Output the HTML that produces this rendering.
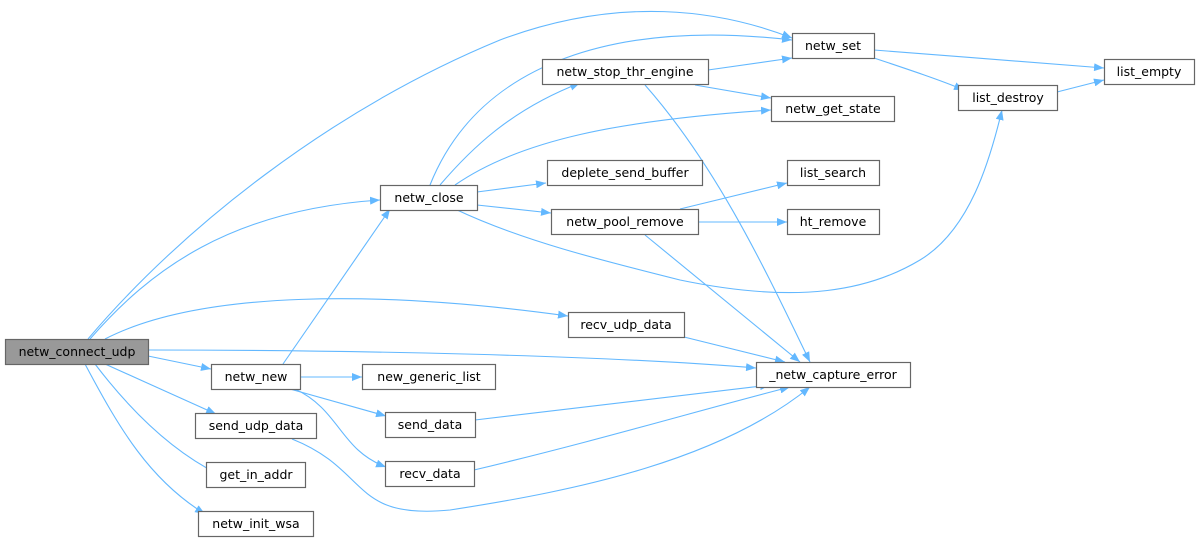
<!DOCTYPE html>
<html><head><meta charset="utf-8"><style>
html,body{margin:0;padding:0;background:#fff;}
svg{display:block}
text{font-family:"DejaVu Sans","Liberation Sans",sans-serif;font-size:12.5px;fill:#000;text-anchor:middle}
.n{fill:#fff;stroke:#666;stroke-width:1.2}
.e{fill:none;stroke:#63b8ff;stroke-width:1.1}
</style></head><body>
<svg width="1201" height="543" viewBox="0 0 1201 543">
<defs><marker id="a" markerWidth="10" markerHeight="8" refX="10" refY="4" orient="auto" markerUnits="userSpaceOnUse"><path d="M0,0 L10,4 L0,8z" fill="#63b8ff"/></marker></defs>
<g class="e" marker-end="url(#a)">
<path d="M88,339 C180,230 330,110 500,40 C620,-5 720,10 792,38"/>
<path d="M90,339 C150,270 230,210 380,200"/>
<path d="M105,339 C200,290 380,290 568,316"/>
<path d="M148,350 C350,350 600,355 756,368"/>
<path d="M148,356 L211,369"/>
<path d="M105,364 L216,414"/>
<path d="M95,364 C130,410 170,450 218,474"/>
<path d="M85,364 C120,430 150,480 205,514"/>
<path d="M283,364 L390,209"/>
<path d="M300,377 L362,377"/>
<path d="M290,389 L386,416"/>
<path d="M295,389 C340,410 340,450 386,467"/>
<path d="M292,439 C370,470 350,520 450,510 C580,490 720,460 810,387"/>
<path d="M430,185 C480,60 620,20 792,40"/>
<path d="M440,185 C470,150 510,110 580,83"/>
<path d="M455,185 C520,140 620,120 771,110"/>
<path d="M477,192 L546,183"/>
<path d="M477,205 L551,213"/>
<path d="M455,209 C520,240 600,260 680,280 C800,305 870,290 920,260 C970,230 990,160 1002,110"/>
<path d="M708,70 L792,58"/>
<path d="M695,85 L771,98"/>
<path d="M645,85 C720,170 770,280 810,362"/>
<path d="M680,209 L787,183"/>
<path d="M698,222 L787,222"/>
<path d="M645,235 L800,362"/>
<path d="M680,336 L785,362"/>
<path d="M475,420 L770,385"/>
<path d="M474,470 C600,440 700,410 790,387"/>
<path d="M874,50 C950,56 1030,62 1104,68"/>
<path d="M874,58 C910,70 940,80 964,90"/>
<path d="M1057,92 L1104,80"/>
</g>
<rect x="5.5" y="339.5" width="143" height="25" fill="#999" stroke="#666" stroke-width="1.2"/><text x="77" y="356">netw_connect_udp</text>
<rect class="n" x="792.5" y="33.5" width="82" height="25"/><text x="833" y="50">netw_set</text>
<rect class="n" x="1104.5" y="59.5" width="90" height="25"/><text x="1149" y="76">list_empty</text>
<rect class="n" x="542.5" y="59.5" width="166" height="25"/><text x="625" y="76">netw_stop_thr_engine</text>
<rect class="n" x="958.5" y="85.5" width="99" height="25"/><text x="1008" y="102">list_destroy</text>
<rect class="n" x="771.5" y="96.5" width="123" height="25"/><text x="833" y="113">netw_get_state</text>
<rect class="n" x="547.5" y="160.5" width="155" height="25"/><text x="625" y="177">deplete_send_buffer</text>
<rect class="n" x="787.5" y="160.5" width="92" height="25"/><text x="833" y="177">list_search</text>
<rect class="n" x="380.5" y="185.5" width="97" height="25"/><text x="429" y="202">netw_close</text>
<rect class="n" x="551.5" y="209.5" width="147" height="25"/><text x="625" y="226">netw_pool_remove</text>
<rect class="n" x="787.5" y="209.5" width="92" height="25"/><text x="833" y="226">ht_remove</text>
<rect class="n" x="568.5" y="312.5" width="116" height="25"/><text x="626" y="329">recv_udp_data</text>
<rect class="n" x="756.5" y="362.5" width="154" height="25"/><text x="833" y="379">_netw_capture_error</text>
<rect class="n" x="211.5" y="364.5" width="89" height="25"/><text x="256" y="381">netw_new</text>
<rect class="n" x="362.5" y="364.5" width="133" height="25"/><text x="429" y="381">new_generic_list</text>
<rect class="n" x="195.5" y="413.5" width="121" height="25"/><text x="256" y="430">send_udp_data</text>
<rect class="n" x="385.5" y="412.5" width="90" height="25"/><text x="430" y="429">send_data</text>
<rect class="n" x="206.5" y="462.5" width="99" height="25"/><text x="256" y="479">get_in_addr</text>
<rect class="n" x="385.5" y="461.5" width="89" height="25"/><text x="430" y="478">recv_data</text>
<rect class="n" x="198.5" y="511.5" width="115" height="25"/><text x="256" y="528">netw_init_wsa</text>
</svg>
</body></html>
